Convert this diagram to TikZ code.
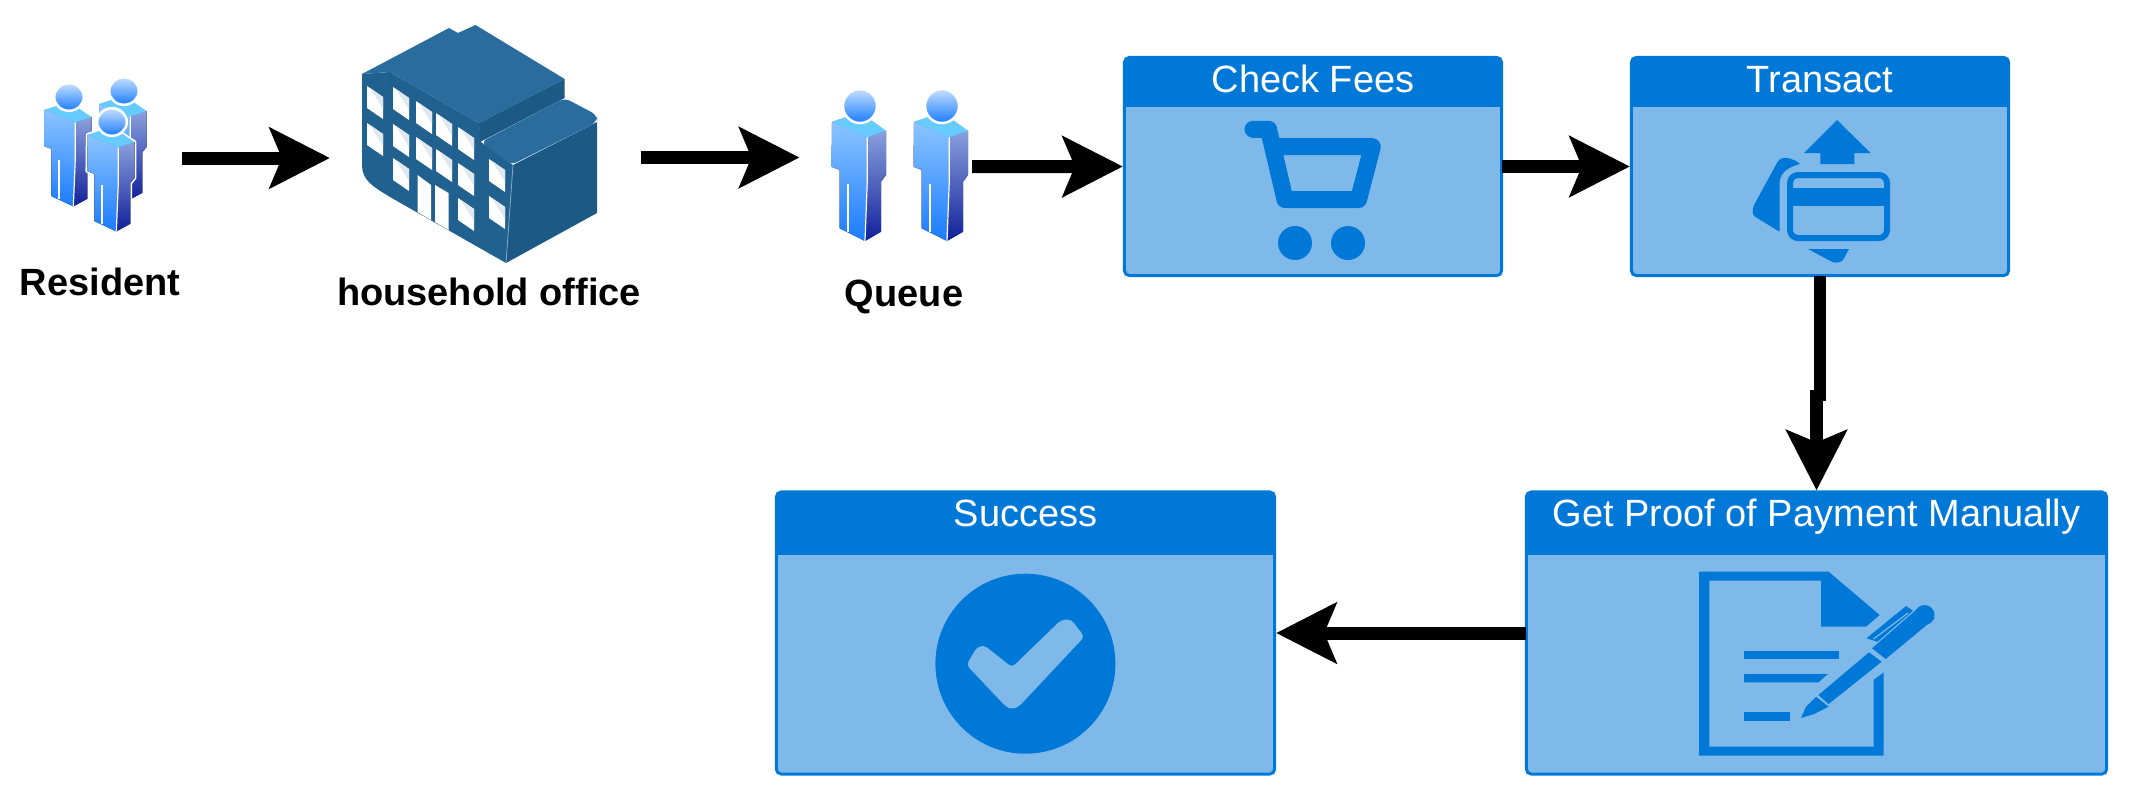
\documentclass[tikz,border=0pt]{standalone}
\usepackage{xcolor}
\usepackage{fontspec}
\setmainfont{Liberation Sans}
\usetikzlibrary{arrows.meta}

\definecolor{boxdark}{HTML}{0078D7}
\definecolor{boxlight}{HTML}{7FB9EA}
\definecolor{officeleft}{HTML}{21618F}
\definecolor{officeroof}{HTML}{2A6C9E}
\definecolor{officeright}{HTML}{1C5A85}
\definecolor{glass}{HTML}{DFE8EF}
\definecolor{headtop}{HTML}{C5E0FF}
\definecolor{bodymid}{HTML}{1A7CFF}
\definecolor{fronttop}{HTML}{8CC4FF}
\definecolor{sidetop}{HTML}{8AA0DD}
\definecolor{sidebottom}{HTML}{10209A}
\definecolor{shoulder}{HTML}{66CCFF}

\tikzset{
  flow/.style={line width=.13cm,shorten >=.015cm,-{Stealth[length=.6cm,width=.6cm,inset=.12cm]}},
  plainflow/.style={line width=.125cm},
  panel/.style={draw=boxdark,fill=boxlight,line width=.03cm,rounded corners=.05cm,outer sep=0pt,inner sep=0pt},
  panelhead/.style={fill=boxdark,text=white,anchor=north,outer sep=0pt,inner sep=0pt,text height=.28cm,
    font=\fontsize{10.8}{13}\selectfont},
  iconspot/.style={inner sep=0pt,outer sep=0pt},
  iconlabel/.style={inner sep=0pt,font=\fontsize{10.8}{13}\selectfont\bfseries},
  person/.pic={
    \draw[white,line width=.035cm,line join=round,fill=white] (-28,15.7) -- (0,6) -- (26,24.7) -- (26,69) -- (21,75.7)
      -- (21,125.7) -- (5,135) -- (-20.3,122.3) -- (-20.3,64) -- (-28.5,60.7) -- cycle;
    \fill[top color=fronttop,bottom color=bodymid] (-28,15.7) -- (7.2,31.3) -- (7.2,77) -- (5,135)
      -- (-20.3,122.3) -- (-20.3,64) -- (-28.5,60.7) -- cycle;
    \fill[top color=sidetop,bottom color=sidebottom] (7.2,31.3) -- (26,24.7) -- (26,69) -- (21,75.7)
      -- (21,125.7) -- (5,135) -- (7.2,77) -- cycle;
    \fill[shoulder] (-28,15.7) -- (0,6) -- (26,24.7) -- (7.2,31.3) -- cycle;
    \draw[white,line width=.02cm] (-12,78) -- (-12,126);
    \draw[white,line width=.012cm] (7.2,31.3) -- (7.2,77) -- (5,135);
    \draw[white,line width=.025cm,top color=headtop,bottom color=bodymid] (0,0) circle (17);
  }
}

\begin{document}
\begin{tikzpicture}[x=.01cm,y=-.01cm]
  \useasboundingbox (0,0) rectangle (2140,805);

  % people and the building
  \pic[xscale=.87,yscale=.81] at (124,91) {person};
  \pic[xscale=.87,yscale=.81] at (69,97) {person};
  \pic[xscale=.87,yscale=.81] at (112,122) {person};
  \pic at (860,106) {person};
  \pic at (942,106) {person};

  \fill[officeleft] (362,74) -- (390,72) -- (479,123) -- (481,142) -- (513,165) -- (506,263) -- (390,197)
    .. controls (372,186) and (362,180) .. (362,165) -- cycle;
  \fill[officeright] (513,165) -- (597,122) -- (597,213) -- (506,263) -- cycle;
  \fill[officeroof] (362,74) -- (449,28) -- (458,33) -- (475.5,25) -- (564.7,79) -- (479,123) -- (390,72) -- cycle;
  \fill[officeright] (564.7,79) -- (564.7,98) -- (480,142) -- (479,123) -- cycle;
  \fill[officeroof,rounded corners=.06cm] (564.7,98) -- (597,115) -- (597,122) -- (511,165) -- (481,142) -- cycle;
  \draw[officeright,line width=.01cm] (390,72) -- (390,86);
  \draw[officeroof!60!white,line width=.008cm] (513,165) -- (506,263);
  \foreach \wx/\wy in {367/86,367/123,393/87,393/124,393/158,416/101,416/137,436/113,436/149,458/127,458/163,458/198,489/159,489/196} {
    \fill[white] (\wx,\wy) -- (\wx+16,\wy+11) -- (\wx+16,\wy+33) -- (\wx,\wy+22) -- cycle;
    \fill[glass] (\wx+3,\wy+2) -- (\wx+16,\wy+11) -- (\wx+16,\wy+23) -- cycle;
  }
  \fill[white] (417.5,175) -- (431,185) -- (431,220) -- (417.5,212) -- cycle;
  \fill[white] (435,185) -- (448.5,193) -- (448.5,230) -- (435,222) -- cycle;

  \node[iconspot,minimum width=1.62cm,minimum height=1.6cm] (resident) at (101,158) {};
  \node[iconspot,minimum width=3.105cm,minimum height=2.4cm] (office) at (486.75,158) {};
  \node[iconspot,minimum width=1.73cm,minimum height=1.6cm] (queue) at (885.5,166.7) {};
  \coordinate (queuein) at (801,157.5);
  \coordinate (officeout) at (641,157.5);

  \node[iconlabel] (residentlabel) at (100,282) {Resident};
  \node[iconlabel] (officelabel) at (489,292) {household office};
  \node[iconlabel] (queuelabel) at (904,297) {Queue};

  % the four panels
  \node[panel,minimum width=3.77cm,minimum height=2.18cm] (fees) at (1313,166.5) {};
  \node[panelhead,minimum width=3.74cm,minimum height=.495cm,text depth=.075cm] (feeshead) at (fees.north) {Check Fees};
  \node[panel,minimum width=3.77cm,minimum height=2.18cm] (transact) at (1820,166.5) {};
  \node[panelhead,minimum width=3.74cm,minimum height=.495cm,text depth=.075cm] (transacthead) at (transact.north) {Transact};
  \node[panel,minimum width=5.8cm,minimum height=2.82cm] (proof) at (1816.5,633) {};
  \node[panelhead,minimum width=5.77cm,minimum height=.63cm,text depth=.22cm] (proofhead) at (proof.north) {Get Proof of Payment Manually};
  \node[panel,minimum width=4.98cm,minimum height=2.82cm] (success) at (1025.5,633) {};
  \node[panelhead,minimum width=4.95cm,minimum height=.63cm,text depth=.22cm] (successhead) at (success.north) {Success};

  % cart
  \draw[boxdark,line width=.17cm,line cap=round,line join=round] (1253,129.3) -- (1268.5,129.3) -- (1285,199.5) -- (1358.5,199.5)
    -- (1372.3,146.7) -- (1272.6,146.7);
  \fill[boxdark] (1295,243) circle (17);
  \fill[boxdark] (1348,243) circle (17);

  % card
  \fill[boxdark] (1837,120) -- (1870.6,153) -- (1854.3,153) -- (1854.3,164) -- (1820.4,164) -- (1820.4,153) -- (1804,153) -- cycle;
  \draw[boxdark,line width=.06cm,rounded corners=.08cm] (1790,175) rectangle (1887,238);
  \fill[boxdark] (1790,188) rectangle (1887,205.7);
  \fill[boxdark] (1800,164) .. controls (1793,158) and (1782,155) .. (1777.6,161.7) -- (1754,205)
    .. controls (1752,211) and (1752,214) .. (1755,216.7) -- (1779.6,231.7) -- (1779.6,183)
    .. controls (1779.6,176) and (1784,168) .. (1800,164) -- cycle;
  \fill[boxdark] (1808,249) -- (1849,249) -- (1843,260) .. controls (1840,263) and (1834,264) .. (1828.6,260) -- cycle;

  % document and pen
  \fill[boxdark] (1699,571.7) -- (1828.6,571.7) -- (1879.6,615) -- (1866,626.7) -- (1821,626.7) -- (1821,580.7) -- (1709.4,580.7)
    -- (1709.4,746.7) -- (1873.5,746.7) -- (1873.5,680) -- (1883.7,672.3) -- (1883.7,755.7) -- (1699,755.7) -- cycle;
  \fill[boxdark] (1744,650.7) rectangle (1838.8,659);
  \fill[boxdark] (1744,674) -- (1827.8,674) -- (1818.4,682.3) -- (1744,682.3) -- cycle;
  \fill[boxdark] (1744,712) rectangle (1789.8,720.7);
  \fill[boxdark] (1924.5,615) circle (10);
  \fill[boxdark] (1916,610) -- (1934.7,618.3) -- (1885.7,659) -- (1872,648.3) -- cycle;
  \fill[boxdark] (1906,606) -- (1913,610.7) -- (1877.5,641.7) -- (1866.5,638.3) -- cycle;
  \draw[boxlight,line width=.012cm] (1908,613) -- (1873.5,639);
  \fill[boxdark] (1869,652.3) -- (1881.6,661.7) -- (1828.6,704) -- (1818.4,695) -- cycle;
  \fill[boxdark] (1816,696.7) -- (1828.6,706.7) -- (1814,714) -- (1801,718) -- (1806,706.7) -- cycle;

  % check
  \fill[boxdark] (1025.4,663.7) circle (90);
  \fill[boxlight,rounded corners=.04cm] (983.9,645) -- (1012,667.3) -- (1061,620) -- (1071,619.3) -- (1084.4,636.7) -- (1018.7,706.7)
    -- (1012,709.3) -- (1006,706.7) -- (966.5,665) -- (976.4,647.7) -- cycle;

  % connectors
  \draw[flow] (resident.east) -- (office.west);
  \draw[flow] (officeout) -- (queuein);
  \draw[flow] (queue.east) -- (fees.west);
  \draw[flow] (fees.east) -- (transact.west);
  \coordinate (jogtop) at (1820,401);
  \coordinate (jogbot) at (1816.5,390);
  \draw[plainflow] (transact.south) -- (jogtop);
  \draw[flow,line width=.125cm] (jogbot) -- (proof.north);
  \draw[flow] (proof.west) -- (success.east);
\end{tikzpicture}
\end{document}
